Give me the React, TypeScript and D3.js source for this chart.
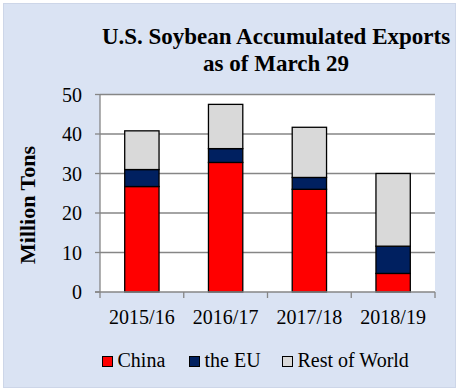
import React from 'react';
import * as d3 from "d3";

const years = ['2015/16', '2016/17', '2017/18', '2018/19'];
const china = [26.7, 32.8, 26.0, 4.7];
const eu = [4.3, 3.5, 3.0, 6.9];
const restOfWorld = [9.8, 11.2, 12.7, 18.4];
const seriesNames = ['China', 'the EU', 'Rest of World'];
const seriesColors = ['#ff0000', '#002060', '#d9d9d9'];
const yTicks = [0, 10, 20, 30, 40, 50];

const width = 459, height = 390;
const plot = { left: 100, right: 435, top: 94.5, bottom: 292 };
const font = '"Liberation Serif", "Times New Roman", serif';

const App = () => {
    const x = d3.scaleBand().domain(years).range([plot.left, plot.right]).padding(0);
    const y = d3.scaleLinear().domain([0, 50]).range([plot.bottom, plot.top]);
    const barW = x.bandwidth() * 0.41;

    const rows = years.map((yr, i) => ({ year: yr, c0: china[i], c1: eu[i], c2: restOfWorld[i] }));
    const stacked = d3.stack().keys(['c0', 'c1', 'c2'])(rows as any);

    const legendX = [102, 189, 282];

    return (
        <div style={{ position: 'absolute', left: 0, top: 0 }}>
            <svg width={width} height={height} style={{ display: 'block', fontFamily: font }}>
                <rect x={0} y={0} width={width} height={height} fill="#ffffff" />
                <rect x={3.5} y={3.5} width={452} height={384} fill="#dae3f3" stroke="#cdd6e8" strokeWidth={1} />

                <text x={276} y={44} textAnchor="middle" fontSize={23} fontWeight="bold" fill="#000">U.S. Soybean Accumulated Exports</text>
                <text x={276} y={71} textAnchor="middle" fontSize={23} fontWeight="bold" fill="#000">as of March 29</text>

                <rect x={plot.left} y={plot.top} width={plot.right - plot.left} height={plot.bottom - plot.top} fill="#ffffff" />

                {yTicks.map(t => (
                    <g key={t}>
                        {t > 0 && <line x1={plot.left} x2={plot.right} y1={y(t)} y2={y(t)} stroke="#868686" strokeWidth={1.3} />}
                        <line x1={plot.left - 5} x2={plot.left} y1={y(t)} y2={y(t)} stroke="#868686" strokeWidth={1.3} />
                        <text x={82} y={y(t) + 7} textAnchor="end" fontSize={20} fill="#000">{t}</text>
                    </g>
                ))}

                {stacked.map((layer, si) => (
                    <g key={si}>
                        {layer.map((d, i) => (
                            <rect key={i}
                                x={(x(years[i]) as number) + x.bandwidth() / 2 - barW / 2}
                                y={y(d[1])}
                                width={barW}
                                height={y(d[0]) - y(d[1])}
                                fill={seriesColors[si]}
                                stroke="#000" strokeWidth={1.3} />
                        ))}
                    </g>
                ))}

                <line x1={plot.left} x2={plot.left} y1={plot.top} y2={plot.bottom} stroke="#868686" strokeWidth={1.3} />
                <line x1={plot.left - 5} x2={plot.right} y1={plot.bottom} y2={plot.bottom} stroke="#868686" strokeWidth={1.3} />
                {[...years.map(yr => x(yr) as number), plot.right].map((tx, i) => (
                    <line key={i} x1={tx} x2={tx} y1={plot.bottom} y2={plot.bottom + 6} stroke="#868686" strokeWidth={1.3} />
                ))}
                {years.map(yr => (
                    <text key={yr} x={(x(yr) as number) + x.bandwidth() / 2} y={324} textAnchor="middle" fontSize={20} fill="#000">{yr}</text>
                ))}

                <text transform="translate(35,205) rotate(-90)" textAnchor="middle" fontSize={22} fontWeight="bold" fill="#000">Million Tons</text>

                {seriesNames.map((name, i) => (
                    <g key={name}>
                        <rect x={legendX[i] + 0.5} y={356.5} width={10} height={10} fill={seriesColors[i]} stroke="#000" strokeWidth={1} />
                        <text x={legendX[i] + 15.5} y={366.5} fontSize={20} fill="#000">{name}</text>
                    </g>
                ))}
            </svg>
        </div>
    );
};

export default App;
